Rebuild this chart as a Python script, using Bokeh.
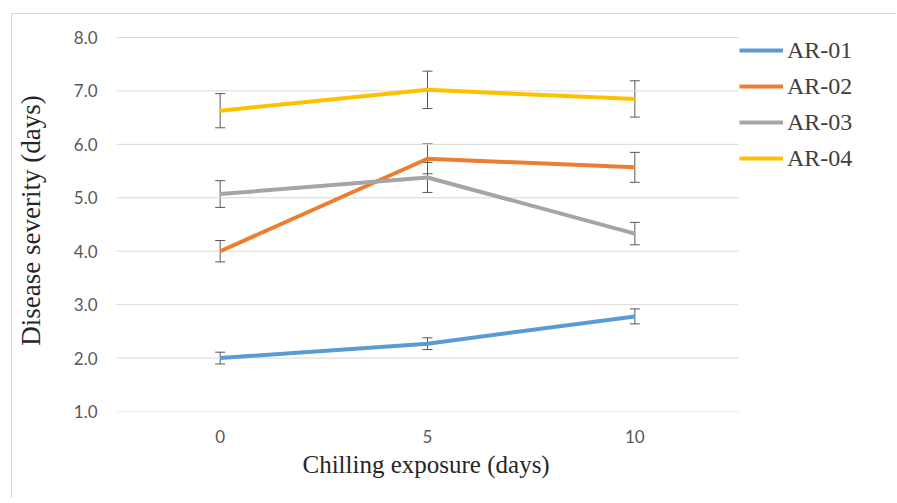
from bokeh.plotting import figure
from bokeh.models import (ColumnDataSource, Whisker, TeeHead, FixedTicker, Legend,
                          LegendItem, NumeralTickFormatter, Range1d, Title)
from bokeh.embed import file_html
from bokeh.resources import INLINE

# ---- data ----
exposure = [0, 5, 10]
x_ticks = [0, 5, 10]
y_ticks = [1, 2, 3, 4, 5, 6, 7, 8]
series_names = ["AR-01", "AR-02", "AR-03", "AR-04"]
ar01 = [2.00, 2.27, 2.78]
ar02 = [4.00, 5.73, 5.57]
ar03 = [5.07, 5.38, 4.33]
ar04 = [6.63, 7.02, 6.85]
ar01_err = [0.11, 0.11, 0.14]
ar02_err = [0.20, 0.28, 0.28]
ar03_err = [0.25, 0.28, 0.21]
ar04_err = [0.32, 0.35, 0.34]
colors = ["#5B9BD5", "#ED7D31", "#A5A5A5", "#FFC000"]
x_title = "Chilling exposure (days)"
y_title = "Disease severity (days)"

values = [ar01, ar02, ar03, ar04]
errors = [ar01_err, ar02_err, ar03_err, ar04_err]

# axis extents of the chart area
x_lo, x_hi = -2.5, 12.5
y_lo, y_hi = 1.0, 8.0

# ---- layout (figure pixels) ----
W, H = 885, 485
FL, FR, FT, FB = 104, 726, 23, 397      # chart area (gridlines) edges
FR_ext, FT_ext = 880, 15                 # extended frame so the legend is not clipped
x_max = x_lo + (x_hi - x_lo) * (FR_ext - FL) / (FR - FL)
y_max = y_hi + (y_hi - y_lo) * (FT - FT_ext) / (FB - FT)

p = figure(width=W, height=H, output_backend="svg", toolbar_location=None,
           x_range=Range1d(x_lo, x_max), y_range=Range1d(y_lo, y_max),
           min_border_left=FL, min_border_right=W - FR_ext,
           min_border_top=FT_ext, min_border_bottom=H - FB)
p.styles = {"margin-left": "11px", "margin-top": "13px",
            "border-left": "1px solid #d6d6d6", "border-top": "1px solid #d6d6d6"}
p.outline_line_color = None
p.background_fill_color = "white"
p.border_fill_color = "white"

# axes
for ax in (p.xaxis[0], p.yaxis[0]):
    ax.axis_line_color = None
    ax.major_tick_line_color = None
    ax.minor_tick_line_color = None
    ax.major_label_text_font = "Lato"
    ax.major_label_text_font_size = "17px"
    ax.major_label_text_color = "#595959"
    ax.axis_label_text_font = "Liberation Serif"
    ax.axis_label_text_font_style = "normal"
    ax.axis_label_text_color = "#262626"

p.yaxis.axis_label_text_font_size = "27px"
p.xaxis.ticker = FixedTicker(ticks=x_ticks)
p.yaxis.ticker = FixedTicker(ticks=y_ticks)
p.yaxis.formatter = NumeralTickFormatter(format="0.0")
p.xaxis.major_label_standoff = 12
p.yaxis.major_label_standoff = 13
p.yaxis.axis_label = y_title
p.yaxis.axis_label_standoff = 25

# x-axis title centred under the chart area (not the extended frame)
xt = Title(text=x_title, align="left", offset=186, standoff=6,
           text_font="Liberation Serif", text_font_size="25px",
           text_font_style="normal", text_color="#262626")
p.add_layout(xt, "below")

p.xgrid.grid_line_color = None
p.ygrid.grid_line_color = None
p.segment(x0=[x_lo] * len(y_ticks), x1=[x_hi] * len(y_ticks), y0=y_ticks, y1=y_ticks,
          line_color="#d9d9d9", line_width=1)

items = []
for name, vals, errs, c in zip(series_names, values, errors, colors):
    src = ColumnDataSource(dict(x=exposure, y=vals,
                                lo=[v - e for v, e in zip(vals, errs)],
                                hi=[v + e for v, e in zip(vals, errs)]))
    r = p.line("x", "y", source=src, line_color=c, line_width=4, line_join="round")
    items.append(LegendItem(label=name, renderers=[r]))
    w = Whisker(base="x", upper="hi", lower="lo", source=src,
                line_color="#595959", line_width=1,
                upper_head=TeeHead(size=10, line_color="#595959", line_width=1),
                lower_head=TeeHead(size=10, line_color="#595959", line_width=1))
    p.add_layout(w)

legend = Legend(items=items, location=(FR + 1 - FL, FB - 162), orientation="vertical",
                border_line_color=None, background_fill_alpha=0,
                padding=0, margin=0, spacing=0,
                glyph_width=44, glyph_height=36, label_height=36,
                label_standoff=4,
                label_text_font="Liberation Serif", label_text_font_size="24px",
                label_text_color="#404040")
p.add_layout(legend, "center")

open("out.html", "w").write(file_html(p, INLINE))
